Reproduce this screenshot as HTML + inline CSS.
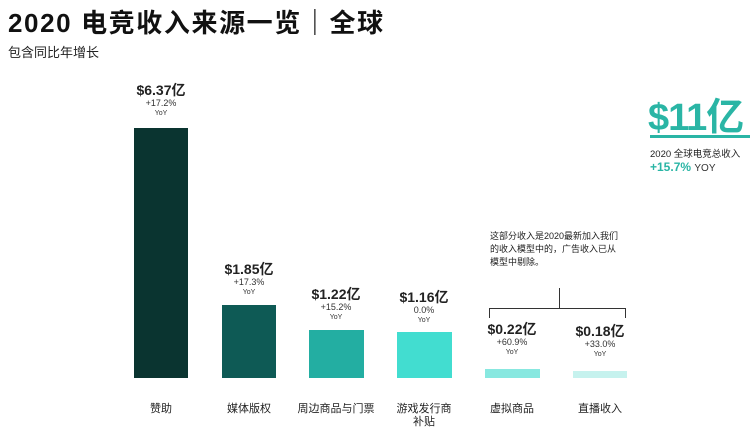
<!DOCTYPE html>
<html><head><meta charset="utf-8"><style>
body{margin:0;width:750px;height:428px;background:#fff;position:relative;overflow:hidden;font-family:"Liberation Sans","Noto Sans CJK SC",sans-serif;color:#222}
.a{position:absolute;white-space:nowrap}
.bar{position:absolute}
.v{position:absolute;text-align:center;width:110px;line-height:1}
.v b{font-size:14px;display:block;color:#222}
.v i{font-style:normal;font-size:9px;display:block;margin-top:2px;color:#333}
.v s{text-decoration:none;font-size:7px;display:block;margin-top:2px;color:#333}
.lab{position:absolute;width:110px;text-align:center;font-size:11px;line-height:13px;color:#222}
</style></head><body>
<div class="a" style="left:8px;top:3px;font-size:26px;font-weight:bold;color:#111;letter-spacing:1.6px">2020 电竞收入来源一览｜全球</div>
<div class="a" style="left:8px;top:42px;font-size:13px;color:#222">包含同比年增长</div>

<div class="bar" style="left:134px;top:128px;width:54px;height:250px;background:#0a3430"></div>
<div class="bar" style="left:222px;top:305px;width:54px;height:73px;background:#0e5a55"></div>
<div class="bar" style="left:309px;top:330px;width:55px;height:48px;background:#23aea2"></div>
<div class="bar" style="left:397px;top:332px;width:55px;height:46px;background:#42ddd0"></div>
<div class="bar" style="left:485px;top:369px;width:55px;height:9px;background:#88e8e0"></div>
<div class="bar" style="left:573px;top:371px;width:54px;height:7px;background:#c6f2ee"></div>

<div class="v" style="left:106px;top:83px"><b>$6.37亿</b><i>+17.2%</i><s>YoY</s></div>
<div class="v" style="left:194px;top:262px"><b>$1.85亿</b><i>+17.3%</i><s>YoY</s></div>
<div class="v" style="left:281px;top:287px"><b>$1.22亿</b><i>+15.2%</i><s>YoY</s></div>
<div class="v" style="left:369px;top:290px"><b>$1.16亿</b><i>0.0%</i><s>YoY</s></div>
<div class="v" style="left:457px;top:322px"><b>$0.22亿</b><i>+60.9%</i><s>YoY</s></div>
<div class="v" style="left:545px;top:324px"><b>$0.18亿</b><i>+33.0%</i><s>YoY</s></div>

<div class="lab" style="left:106px;top:403px">赞助</div>
<div class="lab" style="left:194px;top:403px">媒体版权</div>
<div class="lab" style="left:281px;top:403px">周边商品与门票</div>
<div class="lab" style="left:369px;top:403px">游戏发行商<br>补贴</div>
<div class="lab" style="left:457px;top:403px">虚拟商品</div>
<div class="lab" style="left:545px;top:403px">直播收入</div>

<div class="a" style="left:490px;top:230px;font-size:9px;line-height:13px;color:#222">这部分收入是2020最新加入我们<br>的收入模型中的，广告收入已从<br>模型中剔除。</div>
<div class="bar" style="left:559px;top:288px;width:1px;height:20px;background:#333"></div>
<div class="bar" style="left:489px;top:308px;width:137px;height:1px;background:#333"></div>
<div class="bar" style="left:489px;top:308px;width:1px;height:10px;background:#333"></div>
<div class="bar" style="left:625px;top:308px;width:1px;height:10px;background:#333"></div>

<div class="a" style="left:648px;top:86px;font-size:38px;font-weight:bold;color:#2ab5a5;letter-spacing:-1px">$11亿</div>
<div class="bar" style="left:650px;top:135px;width:100px;height:3px;background:#2ab5a5"></div>
<div class="a" style="left:650px;top:146px;font-size:9.5px;color:#222">2020 全球电竞总收入</div>
<div class="a" style="left:650px;top:160px;font-size:12px;font-weight:bold;color:#2ab5a5">+15.7% <span style="font-weight:normal;color:#333;font-size:10px">YOY</span></div>
</body></html>
